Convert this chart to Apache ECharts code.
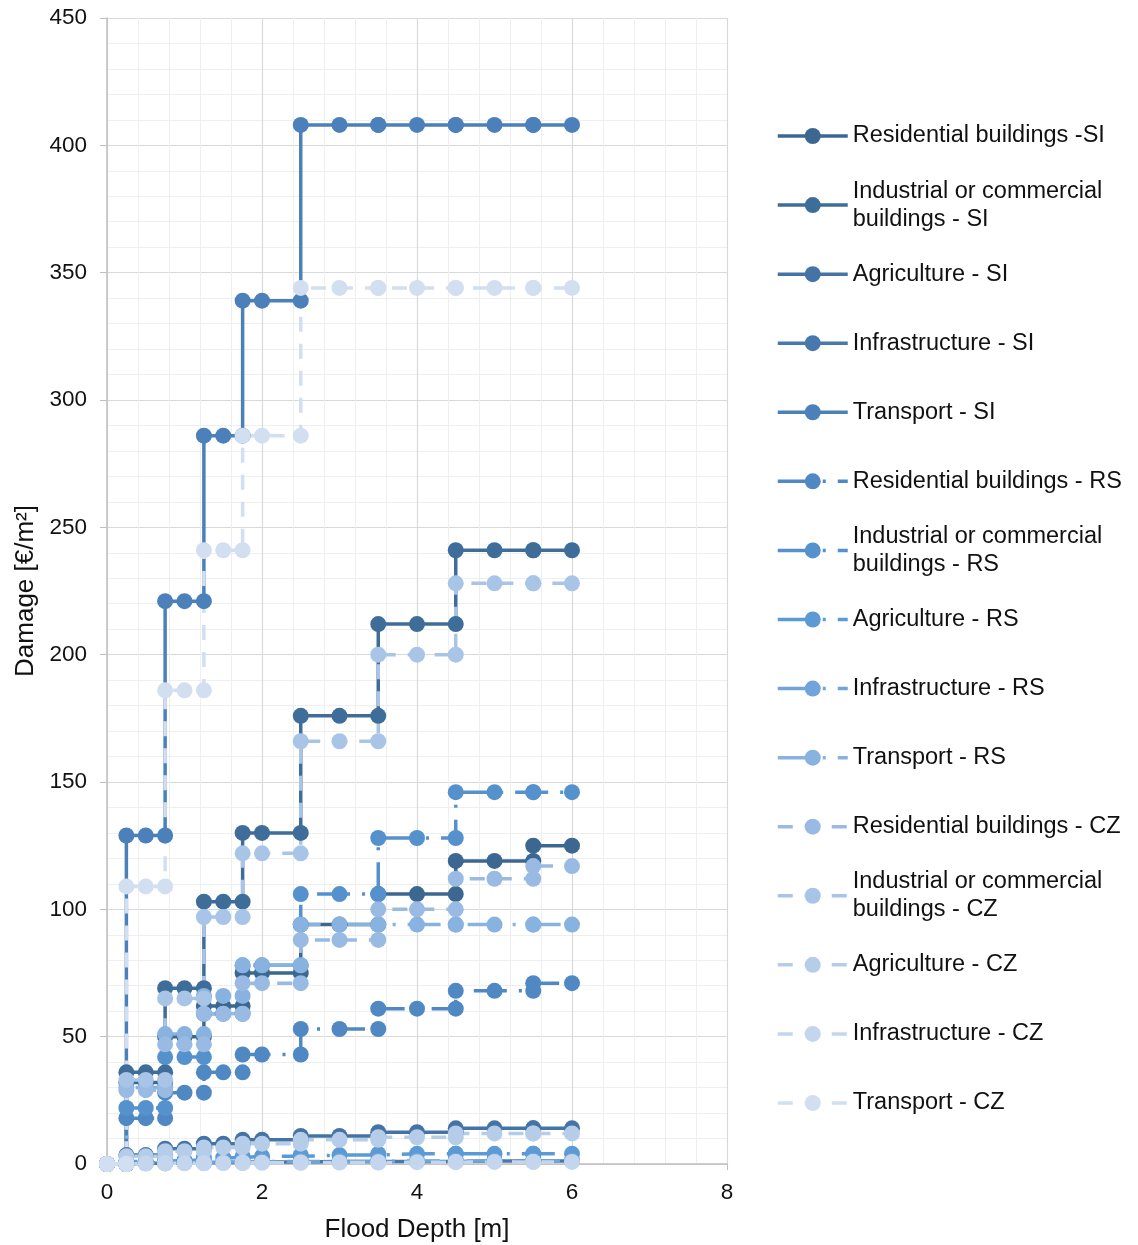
<!DOCTYPE html>
<html>
<head>
<meta charset="utf-8">
<script src="https://cdn.jsdelivr.net/npm/echarts@6/dist/echarts.min.js"></script>
<style>html,body{margin:0;padding:0;background:#fff;overflow:hidden;width:1138px;height:1245px;}#c{width:1138px;height:1245px;}</style>
</head>
<body>
<div id="c"></div>
<script>
// Flood depth points of the step curves (each breakpoint appears twice)
const depthPoints = [0, 0.25, 0.25, 0.5, 0.75, 0.75, 1, 1.25, 1.25, 1.5, 1.75, 1.75, 2, 2.5, 2.5, 3, 3.5, 3.5, 4, 4.5, 4.5, 5, 5.5, 5.5, 6];
// which depth class each point belongs to
const classOfPoint = [0, 0, 1, 1, 1, 2, 2, 2, 3, 3, 3, 4, 4, 4, 5, 5, 5, 6, 6, 6, 7, 7, 7, 8, 8];

// Damage per depth class [€/m²]: classes 0, 0.25-0.75, 0.75-1.25, 1.25-1.75, 1.75-2.5, 2.5-3.5, 3.5-4.5, 4.5-5.5, 5.5-6
const residentialSI   = [0, 32, 50, 62, 75, 94, 106, 119, 125];
const industrialSI    = [0, 36, 69, 103, 130, 176, 212, 241, 241];
const agricultureSI   = [0, 3.5, 6, 8, 9.5, 11, 12.5, 14, 14];
const infrastructureSI= [0, 0.3, 0.5, 0.6, 0.8, 1, 1, 1.2, 1.2];
const transportSI     = [0, 129, 221, 286, 339, 408, 408, 408, 408];
const residentialRS   = [0, 18, 28, 36, 43, 53, 61, 68, 71];
const industrialRS    = [0, 22, 42, 59, 78, 106, 128, 146, 146];
const agricultureRS   = [0, 1, 1.5, 2.5, 3, 3.5, 4, 4, 4];
const infrastructureRS= [0, 0.5, 0.6, 0.8, 1, 1, 1.2, 1.2, 1.2];
const transportRS     = [0, 30, 51, 66, 78, 94, 94, 94, 94];
const residentialCZ   = [0, 29, 47, 59, 71, 88, 100, 112, 117];
const industrialCZ    = [0, 33, 65, 97, 122, 166, 200, 228, 228];
const agricultureCZ   = [0, 3, 5, 6.5, 8, 9.5, 10.5, 12, 12];
const infrastructureCZ= [0, 0.2, 0.3, 0.4, 0.5, 0.6, 0.7, 0.8, 0.8];
const transportCZ     = [0, 109, 186, 241, 286, 344, 344, 344, 344];

const seriesNames = [
  'Residential buildings -SI',
  'Industrial or commercial buildings - SI',
  'Agriculture - SI',
  'Infrastructure - SI',
  'Transport - SI',
  'Residential buildings - RS',
  'Industrial or commercial buildings - RS',
  'Agriculture - RS',
  'Infrastructure - RS',
  'Transport - RS',
  'Residential buildings - CZ',
  'Industrial or commercial buildings - CZ',
  'Agriculture - CZ',
  'Infrastructure - CZ',
  'Transport - CZ'
];
const seriesLevels = [
  residentialSI, industrialSI, agricultureSI, infrastructureSI, transportSI,
  residentialRS, industrialRS, agricultureRS, infrastructureRS, transportRS,
  residentialCZ, industrialCZ, agricultureCZ, infrastructureCZ, transportCZ
];
const xTicks = [0, 2, 4, 6, 8];
const yTicks = [0, 50, 100, 150, 200, 250, 300, 350, 400, 450];

const colors = ['#3b6790','#3f6d99','#4473a5','#4879ae','#4b80ba',
                '#5088c4','#5591cd','#5b9ad5','#70a4da','#88b2df',
                '#99bbe3','#a8c5e7','#b6cdea','#c4d6ee','#d2dff1'];
const dashSI = 'solid';
const dashRS = [33, 12, 3, 12];
const dashCZ = [15, 12];

const font = 'Liberation Sans, Arial, sans-serif';

const series = seriesNames.map((name, i) => {
  const lv = seriesLevels[i];
  const data = depthPoints.map((d, k) => [d, lv[classOfPoint[k]]]);
  const type = i < 5 ? dashSI : (i < 10 ? dashRS : dashCZ);
  return {
    name: name,
    type: 'line',
    data: data,
    symbol: 'circle',
    symbolSize: 16,
    showAllSymbol: true,
    itemStyle: { color: colors[i] },
    lineStyle: { color: colors[i], width: 3.5, type: type },
    emphasis: { disabled: true },
    z: 2
  };
});

const legends = seriesNames.map((name, i) => {
  const twoLine = name.indexOf('commercial ') >= 0;
  const cy = 135 + i * 69.07;
  return {
    data: [name],
    left: 776,
    top: twoLine ? cy - 41 : cy - 13,
    orient: 'vertical',
    padding: 0,
    itemGap: 0,
    itemWidth: 70,
    itemHeight: 20,
    selectedMode: false,
    lineStyle: { width: 3.5 },
    formatter: n => n.replace('commercial ', 'commercial\n'),
    textStyle: {
      fontFamily: font, fontSize: 23.5, color: '#111111', lineHeight: 28,
      padding: twoLine ? [28, 0, 0, 0] : 0
    }
  };
});

const chart = echarts.init(document.getElementById('c'), null, { renderer: 'canvas', width: 1138, height: 1245 });
chart.setOption({
  animation: false,
  backgroundColor: '#ffffff',
  grid: { left: 107, right: 411, top: 18, bottom: 81, containLabel: false, outerBoundsMode: 'none' },
  legend: legends,
  xAxis: {
    type: 'value', min: xTicks[0], max: xTicks[xTicks.length - 1], interval: 2,
    name: 'Flood Depth [m]', nameLocation: 'middle', nameGap: 53,
    nameTextStyle: { fontFamily: font, fontSize: 26, color: '#111111' },
    axisLine: { show: true, lineStyle: { color: '#bfbfbf', width: 1.5 } },
    axisTick: { show: true, length: 6, lineStyle: { color: '#bfbfbf' } },
    axisLabel: { fontFamily: font, fontSize: 22.5, color: '#111111', margin: 17 },
    splitLine: { show: true, lineStyle: { color: '#d9d9d9', width: 1.2 } },
    minorTick: { show: false, splitNumber: 5 },
    minorSplitLine: { show: true, lineStyle: { color: '#efefef', width: 1 } }
  },
  yAxis: {
    type: 'value', min: yTicks[0], max: yTicks[yTicks.length - 1], interval: 50,
    name: 'Damage [€/m²]', nameLocation: 'middle', nameGap: 68, nameRotate: 90,
    nameTextStyle: { fontFamily: font, fontSize: 26, color: '#111111' },
    axisLine: { show: true, lineStyle: { color: '#bfbfbf', width: 1.5 } },
    axisTick: { show: true, length: 7, lineStyle: { color: '#bfbfbf' } },
    axisLabel: { fontFamily: font, fontSize: 22.5, color: '#111111', margin: 20 },
    splitLine: { show: true, lineStyle: { color: '#d9d9d9', width: 1.2 } },
    minorTick: { show: false, splitNumber: 5 },
    minorSplitLine: { show: true, lineStyle: { color: '#efefef', width: 1 } }
  },
  series: series
});
</script>
</body>
</html>
